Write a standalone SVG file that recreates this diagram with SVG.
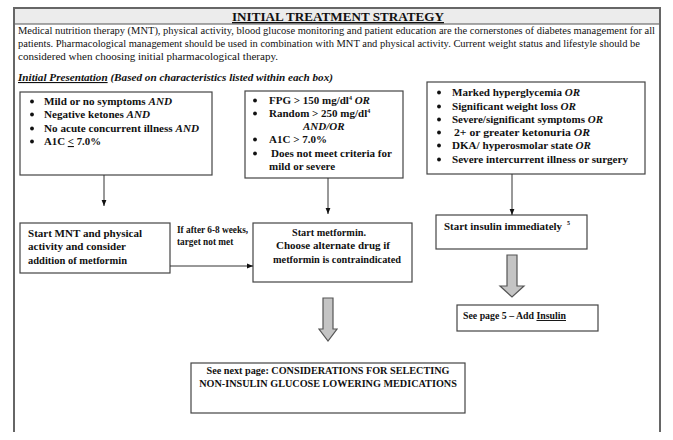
<svg xmlns="http://www.w3.org/2000/svg" width="673" height="440" viewBox="0 0 673 440">
<defs>
<style>
text{font-family:"Liberation Serif","Times New Roman",serif;fill:#111}
.b{font-weight:bold}
.i{font-style:italic}
.bi{font-weight:bold;font-style:italic}
.box{fill:#fff;stroke:#444;stroke-width:1.2}
.frame{fill:none;stroke:#666;stroke-width:2}
.con{fill:none;stroke:#333;stroke-width:1}
.blk{fill:#c4c4c4;stroke:#555;stroke-width:1.2}
.p{font-size:10px}
.l{font-size:11px;font-weight:bold}
.m{font-size:11px;font-weight:bold}
.n{font-size:11px;font-weight:bold}
.dot{fill:#111}
</style>
<marker id="ah" viewBox="0 0 10 10" refX="10" refY="5" markerWidth="6" markerHeight="6" orient="auto" markerUnits="userSpaceOnUse">
<path d="M0,1 L10,5 L0,9 z" fill="#111"/>
</marker>
</defs>
<rect width="673" height="440" fill="#fff"/>
<g id="header">
<rect x="14" y="8" width="646" height="16" fill="#ececec"/>
<line x1="14" y1="24" x2="660" y2="24" stroke="#555" stroke-width="1"/>
<path class="frame" d="M14,432 V8 H660 V432"/>
<text x="232" y="21" class="b" font-size="13" text-decoration="underline" textLength="212" lengthAdjust="spacingAndGlyphs">INITIAL TREATMENT STRATEGY</text>
<text x="18" y="34" class="p" textLength="637" lengthAdjust="spacingAndGlyphs">Medical nutrition therapy (MNT), physical activity, blood glucose monitoring and patient education are the cornerstones of diabetes management for all</text>
<text x="18" y="47" class="p" textLength="622" lengthAdjust="spacingAndGlyphs">patients.  Pharmacological management should be used in combination with MNT and physical activity.  Current weight status and lifestyle should be</text>
<text x="18" y="60" class="p" textLength="260" lengthAdjust="spacingAndGlyphs">considered when choosing initial pharmacological therapy.</text>
<text x="18" y="81" class="bi" font-size="11" textLength="315" lengthAdjust="spacingAndGlyphs"><tspan text-decoration="underline">Initial Presentation</tspan> (Based on characteristics listed within each box)</text>
</g>
<g id="mild">
<rect class="box" x="20" y="92" width="192" height="83"/>
<circle class="dot" cx="32" cy="101.5" r="1.9"/><circle class="dot" cx="32" cy="114.5" r="1.9"/><circle class="dot" cx="32" cy="128.5" r="1.9"/><circle class="dot" cx="32" cy="141.5" r="1.9"/>
<text x="44" y="105" class="l" textLength="128" lengthAdjust="spacingAndGlyphs">Mild or no symptoms <tspan class="i">AND</tspan></text>
<text x="44" y="118" class="l" textLength="106" lengthAdjust="spacingAndGlyphs">Negative ketones <tspan class="i">AND</tspan></text>
<text x="44" y="132" class="l" textLength="155" lengthAdjust="spacingAndGlyphs">No acute concurrent illness <tspan class="i">AND</tspan></text>
<text x="44" y="145" class="l" textLength="57" lengthAdjust="spacingAndGlyphs">A1C <tspan text-decoration="underline">&lt;</tspan> 7.0%</text>
</g>
<g id="moderate">
<rect class="box" x="245" y="91" width="158" height="87"/>
<circle class="dot" cx="255" cy="100.5" r="1.9"/><circle class="dot" cx="255" cy="113.5" r="1.9"/><circle class="dot" cx="255" cy="139.5" r="1.9"/><circle class="dot" cx="255" cy="153.5" r="1.9"/>
<text x="269" y="104" class="l">FPG &gt; 150 mg/dl<tspan font-size="6" dy="-4">4</tspan><tspan class="i" dy="4"> OR</tspan></text>
<text x="269" y="117" class="l">Random &gt; 250 mg/dl<tspan font-size="6" dy="-4">4</tspan></text>
<text x="303" y="130" class="bi" font-size="11">AND/OR</text>
<text x="269" y="143" class="l">A1C &gt; 7.0%</text>
<text x="271" y="157" class="l" textLength="121" lengthAdjust="spacingAndGlyphs">Does not meet criteria for</text>
<text x="269" y="170" class="l">mild or severe</text>
</g>
<g id="severe">
<rect class="box" x="427" y="82" width="218" height="92"/>
<circle class="dot" cx="439" cy="92.5" r="1.9"/><circle class="dot" cx="439" cy="106.5" r="1.9"/><circle class="dot" cx="439" cy="119.5" r="1.9"/><circle class="dot" cx="439" cy="132.5" r="1.9"/><circle class="dot" cx="439" cy="145.5" r="1.9"/><circle class="dot" cx="439" cy="159.5" r="1.9"/>
<text x="452" y="96" class="l" textLength="128" lengthAdjust="spacingAndGlyphs">Marked hyperglycemia <tspan class="i">OR</tspan></text>
<text x="452" y="110" class="l" textLength="124" lengthAdjust="spacingAndGlyphs">Significant weight loss <tspan class="i">OR</tspan></text>
<text x="452" y="123" class="l" textLength="151" lengthAdjust="spacingAndGlyphs">Severe/significant symptoms <tspan class="i">OR</tspan></text>
<text x="454" y="136" class="l" textLength="136" lengthAdjust="spacingAndGlyphs">2+ or greater ketonuria <tspan class="i">OR</tspan></text>
<text x="452" y="149" class="l" textLength="139" lengthAdjust="spacingAndGlyphs">DKA/ hyperosmolar state <tspan class="i">OR</tspan></text>
<text x="452" y="163" class="l" textLength="176" lengthAdjust="spacingAndGlyphs">Severe intercurrent illness or surgery</text>
</g>
<g id="mnt">
<rect class="box" x="20" y="223" width="150" height="50"/>
<text x="28" y="237" class="m" textLength="114" lengthAdjust="spacingAndGlyphs">Start MNT and physical</text>
<text x="28" y="250" class="m" textLength="98" lengthAdjust="spacingAndGlyphs">activity and consider</text>
<text x="28" y="264" class="m" textLength="99" lengthAdjust="spacingAndGlyphs">addition of metformin</text>
</g>
<g id="metformin">
<rect class="box" x="253" y="223" width="159" height="59"/>
<text x="292" y="236" class="n" textLength="74" lengthAdjust="spacingAndGlyphs">Start metformin.</text>
<text x="276" y="249" class="n" textLength="114" lengthAdjust="spacingAndGlyphs">Choose alternate drug if</text>
<text x="273" y="263" class="n" textLength="128" lengthAdjust="spacingAndGlyphs">metformin is contraindicated</text>
</g>
<g id="insulin">
<rect class="box" x="436" y="215" width="151" height="34"/>
<text x="444" y="230" class="b" font-size="10.8" textLength="118" lengthAdjust="spacingAndGlyphs">Start insulin immediately</text>
<text x="567" y="225" class="b" font-size="6">5</text>
</g>
<g id="page5">
<rect class="box" x="457" y="305" width="141" height="26"/>
<text x="463" y="319" class="b" font-size="9.7" textLength="103" lengthAdjust="spacingAndGlyphs">See page 5 –   Add <tspan text-decoration="underline">Insulin</tspan></text>
</g>
<g id="nextpage">
<rect class="box" x="191" y="363" width="274" height="50"/>
<text x="328" y="374" class="b" font-size="10.2" text-anchor="middle">See next page: CONSIDERATIONS FOR SELECTING</text>
<text x="328" y="387" class="b" font-size="10.2" text-anchor="middle">NON-INSULIN GLUCOSE LOWERING MEDICATIONS</text>
</g>
<g id="connectors">
<line class="con" x1="104" y1="175" x2="104" y2="206" marker-end="url(#ah)"/>
<line class="con" x1="328" y1="178" x2="328" y2="214" marker-end="url(#ah)"/>
<line class="con" x1="512" y1="174" x2="512" y2="215" marker-end="url(#ah)"/>
<line class="con" x1="170" y1="266" x2="253" y2="266" marker-end="url(#ah)"/>
<text x="177" y="233" class="b" font-size="9.3">If after 6-8 weeks,</text>
<text x="177" y="245" class="b" font-size="9.3">target not met</text>
<path class="blk" d="M507,255 H517 V286 H524 L512,297 L500,286 H507 Z"/>
<path class="blk" d="M323,298 H333 V329 H337 L328,341 L319,329 H323 Z"/>
</g>
</svg>
